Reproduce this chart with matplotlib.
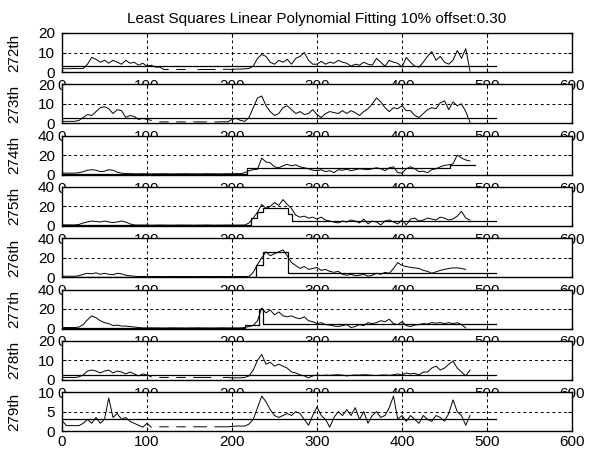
import numpy as np
import matplotlib.pyplot as plt

plt.rcParams['font.family'] = ['Liberation Sans', 'DejaVu Sans']

nan = np.nan
x = list(range(0, 485, 5))

# sampled every 5 samples, nan = gap in the record
s272 = [1.7, 1.7, 1.7, 1.8, 1.7, 1.8, 4, 7.5, 6.5, 5, 6, 4.5, 6, 5, 4, 6, 4.5, 5, 3.5, 4.5,
        3, 3.5, 2.5, 2.5, 1.3, 1.3, nan, 1.3, 1.3, 1.3, nan, nan, 1.2, 1.3, 1.3, 1.3, 1.3, nan, 1.4, 1.4,
        1.3, 1.5, 1.5, 1.6, 1.8, 3, 7, 9, 8, 5, 4, 6, 5, 6.5, 4, 7, 8, 10, 6, 4,
        4, 5.5, 4, 5, 4.5, 6, 5, 4.5, 3, 4, 3.5, 5, 4, 3.5, 7, 5, 3, 6, 5, 4.5,
        2.5, 7.5, 5, 3, 2.5, 5, 8, 10.5, 6, 8, 5, 4, 6, 11, 7, 12, 0.5]
s273 = [1, 1, 1, 1, 1.5, 3, 4.5, 4, 6, 8, 8.5, 7.5, 5, 7, 6.5, 3, 4, 3.5, 2, 2.5,
        2, 1.5, nan, 0.7, 0.7, 0.7, nan, 0.7, 0.7, 0.7, nan, 0.7, 0.7, 0.7, 0.7, nan, 0.7, 0.7, 0.8, 0.7,
        2, 2.5, 1.5, 1, 3, 8, 13, 14, 9, 6, 4, 5, 8, 9, 7, 5, 6, 4.5, 5, 7,
        4.5, 3, 5, 6, 5.5, 5, 6.5, 5, 6.5, 5.5, 4, 6, 7.5, 10, 13, 11, 8, 6, 8, 7.5,
        9, 6.5, 6.5, 4, 3, 5, 7, 8, 7.5, 10.5, 11.5, 7, 11, 9, 10, 6, 0.5]
s274 = [1.5, 1.5, 1.5, 1.5, 2, 3, 4.5, 5, 4.5, 3, 3.5, 5, 4.5, 2.5, 1.5, 1, 1, 0.8, 0.8, 0.9,
        0.8, 0.7, 0.8, 0.8, 0.9, 0.8, 0.7, 0.8, 0.8, 0.9, 0.8, 0.8, 0.7, 0.8, 0.9, 0.8, 0.8, 0.7, 0.8, 0.9,
        0.8, 1, 1, 2, 4, 5, 5.5, 17, 13, 12, 8, 7, 9, 10.5, 9, 10, 8, 7, 6, 4.5,
        4, 5, 3, 4, 2, 5, 4.5, 5.5, 4, 5, 6, 5.5, 5, 6, 7, 6, 4, 7, 8, 2,
        1.5, 6, 8, 6, 3, 3.5, 2, 5, 6, 8, 9.5, 10, 11, 20, 17, 15, 14]
s275 = [1, 1, 1, 1, 1.5, 3, 4, 5, 4.5, 4, 5, 4, 3.5, 4, 5, 4, 2, 1, 0.8, 0.9,
        0.8, 0.7, 0.8, 0.9, 0.8, 0.8, 0.7, 0.8, 0.9, 0.8, 0.8, 0.7, 0.8, 0.8, 0.9, 0.8, 0.7, 0.8, 0.8, 0.9,
        0.8, 0.8, 0.8, 0.9, 3, 8, 14, 22, 18, 20, 24, 21, 27, 22, 18, 11, 9, 10, 8, 9,
        7, 9, 6, 5, 4, 3, 5, 4, 6, 5, 3, 7, 2, 5, 4, 1, 5, 6, 4, 2,
        6, 1, 7, 8, 5, 6, 8, 7, 6, 9, 8, 6, 7, 10, 15, 8, 6]
s276 = [1, 1, 1, 1, 1.5, 3, 4, 3.5, 4.5, 3, 4, 3, 2.5, 4, 3.5, 2, 1.5, 1, 0.7, 0.8,
        0.7, 0.7, 0.8, 0.7, 0.6, 0.7, 0.8, 0.7, 0.7, 0.8, 0.7, 0.6, 0.7, 0.7, 0.8, 0.7, 0.7, 0.8, 0.7, 0.7,
        0.8, 0.7, 0.7, 0.8, 0.8, 5, 13, 20, 26, 22, 24, 26, 28, 22, 15, 12, 9, 11, 8, 9,
        10, 7, 8, 6, 5, 6, 3, 2, 3, 1.5, 2, 3, 1, 2, 4, 3, 5, 4, 9, 15,
        12, 11, 10, 9.5, 9, 7, 6, 4, 5.5, 7, 8, 9, 9.5, 9.5, 9, 8, nan]
s277 = [1, 1, 1, 1, 1.5, 4, 9, 13, 11, 8, 6, 5, 3, 3.5, 2.5, 2.5, 2, 1.5, 1, 0.6,
        0.6, 0.7, 0.6, 0.6, 0.5, 0.6, 0.7, 0.6, 0.6, 0.5, 0.6, 0.6, 0.7, 0.6, 0.6, 0.5, 0.6, 0.6, 0.7, 0.6,
        0.6, 0.6, 0.6, 1, 2, 3, 8, 21, 16, 19, 14, 17, 13, 12, 13, 11, 10, 12, 8, 7,
        5, 6, 4, 3.5, 2.5, 2, 3, 4, 1, 2, 4, 3, 6, 5, 6, 8, 7, 9.5, 5, 4,
        7, 3, 2, 3.5, 4, 5, 4.5, 6, 5.5, 6, 5, 6, 5, 6, 4, 0.5, nan]
s278 = [1.2, 1.2, 1.2, 1.2, 1.5, 2.5, 4.5, 5, 4.5, 3.5, 4.5, 5, 3.5, 4.5, 4, 3, 4, 3, 2, 3,
        2.5, 1.5, nan, 1.2, 1.2, 1.2, nan, 1.2, 1.2, 1.2, nan, 1.2, 1.2, 1.2, 1.2, 1.2, nan, nan, 1.2, 1.2,
        1, 1, 1, 1.2, 2, 5, 10, 13, 8, 9, 7, 8, 7, 6, 4, 3.5, 2.5, 2, 1, 2,
        2.5, 2.2, 2.4, 2.3, 2.5, 2.6, 2.4, 2, 2.3, 2.5, 2.4, 2.6, 2.5, 2.3, 2.2, 2.4, 2.5, 2.3, 2.6, 3,
        2.5, 3.5, 3, 3.3, 2.5, 4, 4, 6, 7, 5, 6, 8, 9.5, 6, 4, 2, 5]
s279 = [2.8, 1.4, 1.4, 1.4, 1.4, 2, 3, 2, 3.5, 2, 3, 8.5, 3.5, 4.5, 3, 3.5, 2.5, 2, 1.5, 1,
        2, 1, nan, 1.1, 1.1, 1.1, nan, 1.1, 1.1, 1.1, nan, 1.1, 1.1, 1.1, 1.1, nan, 1.1, 1.1, 1.1, 1.1,
        1.2, 1.3, 1.3, 1.3, 1.8, 3, 6, 9, 7.5, 5.5, 4, 3.5, 4, 4.5, 4, 5, 4.5, 3, 1.5, 4,
        6.2, 4, 3, 1, 3.5, 5, 4, 5.5, 4, 6, 3, 5, 2, 4, 5, 3.5, 4, 6, 9, 3,
        4, 2.5, 4, 3, 2, 4, 3, 2.5, 4, 3.5, 2.5, 4.5, 8, 5, 4, 1.5, 4]

# fitted level: breakpoints and the value after each breakpoint
fit_x = {
    '272th': [0, 511], '273th': [0, 511],
    '274th': [0, 218, 456, 486], '275th': [0, 222, 229, 236, 266, 270, 511],
    '276th': [0, 228, 236, 266, 511], '277th': [0, 215, 232, 236, 511],
    '278th': [0, 511], '279th': [0, 511],
}
fit_y = {
    '272th': [3.3], '273th': [2.8],
    '274th': [0.5, 6.3, 9.5], '275th': [0.5, 8, 14, 18, 12.5, 5.5],
    '276th': [0.5, 13, 25.5, 4.4], '277th': [0.5, 3.5, 20, 5],
    '278th': [2.3], '279th': [3.1],
}

names = ['272th', '273th', '274th', '275th', '276th', '277th', '278th', '279th']
series = [s272, s273, s274, s275, s276, s277, s278, s279]
ymax = [20, 20, 40, 40, 40, 40, 20, 10]

W, H = 595, 449
fig = plt.figure(figsize=(W / 100, H / 100), dpi=100)

for i, name in enumerate(names):
    top = 33 + 51.3 * i
    ax = fig.add_axes([62 / W, 1 - (top + 39) / H, 510 / W, 39 / H])
    ax.plot(x, series[i], color='black', lw=0.7)
    fx = fit_x[name]
    fy = fit_y[name] + [fit_y[name][-1]]
    ax.step(fx, fy, where='post', color='black', lw=0.9)
    ax.set_xlim(0, 600)
    ax.set_ylim(0, ymax[i])
    ax.set_xticks(range(0, 601, 100))
    ax.set_yticks([0, ymax[i] / 2, ymax[i]])
    ax.set_yticklabels(['0', '%g' % (ymax[i] / 2), '%g' % ymax[i]])
    ax.grid(True, color='black', ls=(0, (3, 3)), lw=0.7)
    ax.tick_params(direction='in', top=True, right=True, length=3, labelsize=11)
    ax.tick_params(axis='x', pad=2.5 if i == len(names) - 1 else 5)
    ax.tick_params(axis='y', pad=5)
    for sp in ax.spines.values():
        sp.set_linewidth(1.0)
    ax.set_ylabel(name, fontsize=11)
    ax.yaxis.set_label_coords(-0.08, 0.5)
    if i == 0:
        ax.set_title('Least Squares Linear Polynomial Fitting 10% offset:0.30', fontsize=11, pad=7)

fig.savefig('out.png', dpi=100)
